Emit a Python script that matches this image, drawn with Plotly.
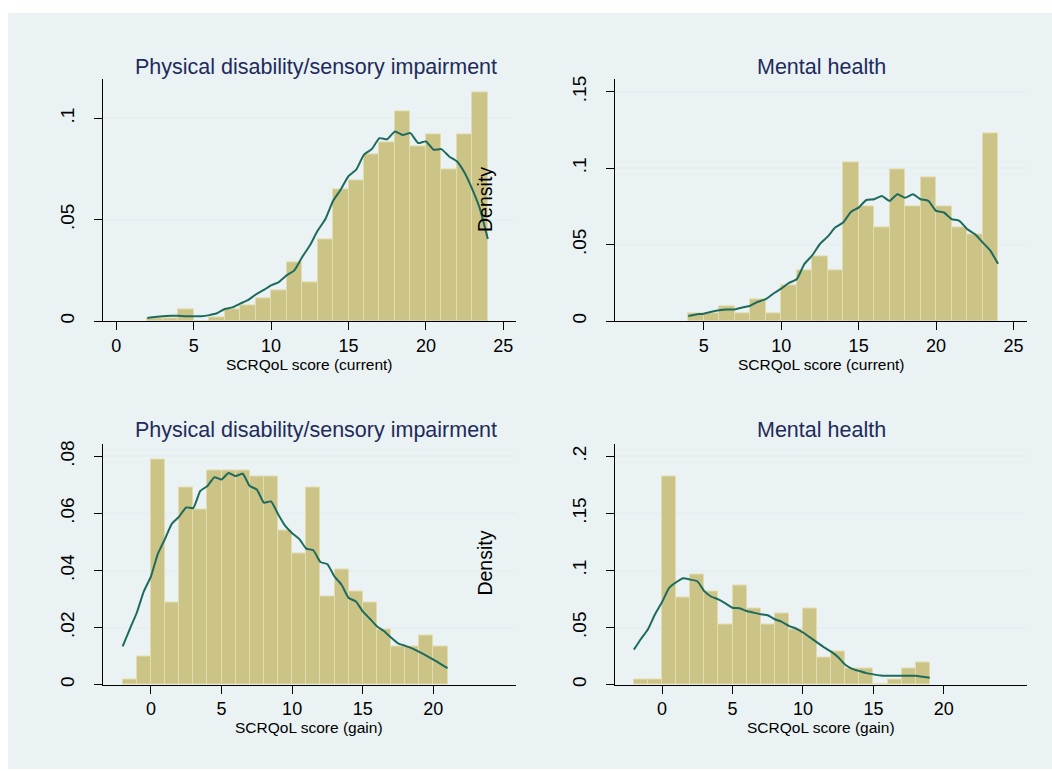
import numpy as np
import plotly.graph_objects as go

# ---- data -----------------------------------------------------------------
# Histogram bins (lower edge of each unit-wide bin) and densities
cur_phys_edges = list(range(2, 24))
cur_phys_dens = [0.0015, 0.0015, 0.0059, 0.0, 0.0018, 0.0057, 0.0078, 0.0114,
                 0.0153, 0.0287, 0.0192, 0.0403, 0.0651, 0.0692, 0.0822, 0.0883,
                 0.1034, 0.0861, 0.0920, 0.0747, 0.0920, 0.1129]

cur_mental_edges = list(range(4, 24))
cur_mental_dens = [0.0048, 0.0048, 0.0095, 0.0048, 0.0143, 0.0048, 0.0236, 0.0331,
                   0.0422, 0.0331, 0.1039, 0.0753, 0.0613, 0.0991, 0.0753, 0.0942,
                   0.0753, 0.0613, 0.0565, 0.1225]

gain_phys_edges = list(range(-2, 21))
gain_phys_dens = [0.0018, 0.0097, 0.0788, 0.0289, 0.0692, 0.0615, 0.0750, 0.0750,
                  0.0750, 0.0731, 0.0731, 0.0539, 0.0459, 0.0692, 0.0308, 0.0403,
                  0.0328, 0.0289, 0.0194, 0.0134, 0.0134, 0.0172, 0.0134]

gain_mental_edges = list(range(-2, 19))
gain_mental_dens = [0.0046, 0.0046, 0.1820, 0.0764, 0.0961, 0.0816, 0.0527, 0.0868,
                    0.0671, 0.0527, 0.0622, 0.0480, 0.0671, 0.0240, 0.0289, 0.0145,
                    0.0145, 0.0, 0.0046, 0.0145, 0.0191]

# Kernel density curves, evaluated on a half-unit grid
cur_phys_kx = np.arange(2.0, 24.01, 0.5)
cur_phys_ky = [0.0015, 0.0020, 0.0024, 0.0026, 0.0026, 0.0023, 0.0024, 0.0024,
               0.0029, 0.0038, 0.0059, 0.0067, 0.0086, 0.0103, 0.0130, 0.0152,
               0.0176, 0.0192, 0.0225, 0.0250, 0.0315, 0.0372, 0.0445, 0.0502,
               0.0592, 0.0649, 0.0715, 0.0747, 0.0821, 0.0848, 0.0902, 0.0897,
               0.0935, 0.0918, 0.0927, 0.0878, 0.0886, 0.0845, 0.0848, 0.0812,
               0.0788, 0.0731, 0.0649, 0.0551, 0.0405]

cur_mental_kx = np.arange(4.0, 24.01, 0.5)
cur_mental_ky = [0.0032, 0.0043, 0.0048, 0.0061, 0.0071, 0.0076, 0.0076, 0.0089,
                 0.0100, 0.0126, 0.0143, 0.0180, 0.0212, 0.0249, 0.0273, 0.0374,
                 0.0429, 0.0504, 0.0552, 0.0613, 0.0645, 0.0714, 0.0742, 0.0792,
                 0.0797, 0.0818, 0.0786, 0.0829, 0.0807, 0.0829, 0.0797, 0.0786,
                 0.0721, 0.0710, 0.0667, 0.0656, 0.0602, 0.0569, 0.0515, 0.0461,
                 0.0374]

gain_phys_kx = np.arange(-2.0, 21.01, 0.5)
gain_phys_ky = [0.0134, 0.0194, 0.0252, 0.0327, 0.0379, 0.0459, 0.0511, 0.0565,
                0.0589, 0.0621, 0.0619, 0.0679, 0.0696, 0.0727, 0.0719, 0.0742,
                0.0731, 0.0739, 0.0696, 0.0684, 0.0638, 0.0642, 0.0598, 0.0557,
                0.0531, 0.0511, 0.0477, 0.0471, 0.0430, 0.0422, 0.0379, 0.0350,
                0.0304, 0.0292, 0.0257, 0.0231, 0.0205, 0.0188, 0.0165, 0.0145,
                0.0136, 0.0127, 0.0115, 0.0102, 0.0088, 0.0073, 0.0058]

gain_mental_kx = np.arange(-2.0, 19.01, 0.5)
gain_mental_ky = [0.0307, 0.0400, 0.0486, 0.0617, 0.0724, 0.0848, 0.0897, 0.0932,
                  0.0920, 0.0906, 0.0819, 0.0770, 0.0747, 0.0712, 0.0674, 0.0669,
                  0.0645, 0.0631, 0.0617, 0.0608, 0.0573, 0.0550, 0.0515, 0.0492,
                  0.0457, 0.0414, 0.0370, 0.0327, 0.0289, 0.0240, 0.0174, 0.0139,
                  0.0119, 0.0101, 0.0090, 0.0081, 0.0078, 0.0078, 0.0078, 0.0078,
                  0.0078, 0.0069, 0.0061]

group_titles = ["Physical disability/sensory impairment", "Mental health"]
x_titles = ["SCRQoL score (current)", "SCRQoL score (gain)"]
y_title = "Density"

# ---- figure geometry (pixels) ---------------------------------------------
W, H = 1052, 771
FONT = "Liberation Sans, Arial, Helvetica, sans-serif"
BAR_FILL = "#CCC386"
BAR_EDGE = "#E2DCAE"
KDE_COLOR = "#1D6B5E"
GRID = "#E6EFF1"
BG = "#EAF2F3"
TITLE_COLOR = "#1E2B5B"


def px_x(p):
    return p / W


def px_y(p):
    return 1 - p / H


panels = [
    dict(edges=cur_phys_edges, dens=cur_phys_dens, kx=cur_phys_kx, ky=cur_phys_ky,
         xd=(103, 516), yd=(76, 319.5), xr=(-0.86, 25.82), yr=(0, 0.1192),
         xt=[0, 5, 10, 15, 20, 25], yt=[0, 0.05, 0.1], ytt=["0", ".05", ".1"]),
    dict(edges=cur_mental_edges, dens=cur_mental_dens, kx=cur_mental_kx, ky=cur_mental_ky,
         xd=(615, 1027), yd=(76, 319.5), xr=(-0.73, 25.87), yr=(0, 0.1581),
         xt=[5, 10, 15, 20, 25], yt=[0, 0.05, 0.1, 0.15], ytt=["0", ".05", ".1", ".15"]),
    dict(edges=gain_phys_edges, dens=gain_phys_dens, kx=gain_phys_kx, ky=gain_phys_ky,
         xd=(103, 516), yd=(443, 686), xr=(-3.39, 25.85), yr=(0, 0.0845),
         xt=[0, 5, 10, 15, 20], yt=[0, 0.02, 0.04, 0.06, 0.08],
         ytt=["0", ".02", ".04", ".06", ".08"]),
    dict(edges=gain_mental_edges, dens=gain_mental_dens, kx=gain_mental_kx, ky=gain_mental_ky,
         xd=(615, 1027), yd=(443, 686), xr=(-3.34, 25.9), yr=(0, 0.2112),
         xt=[0, 5, 10, 15, 20], yt=[0, 0.05, 0.1, 0.15, 0.2],
         ytt=["0", ".05", ".1", ".15", ".2"]),
]

fig = go.Figure()
layout = dict(
    width=W, height=H,
    margin=dict(l=0, r=0, t=0, b=0),
    paper_bgcolor="white",
    plot_bgcolor="white",
    showlegend=False,
    bargap=0,
    font=dict(family=FONT, color="black"),
)

for i, p in enumerate(panels, start=1):
    xa = "x" if i == 1 else f"x{i}"
    ya = "y" if i == 1 else f"y{i}"
    fig.add_trace(go.Bar(
        x=p["edges"], y=p["dens"], width=1, offset=0,
        marker=dict(color=BAR_FILL, line=dict(color=BAR_EDGE, width=1)),
        xaxis=xa, yaxis=ya, hoverinfo="skip",
    ))
    fig.add_trace(go.Scatter(
        x=p["kx"], y=p["ky"], mode="lines",
        line=dict(color=KDE_COLOR, width=2, shape="spline", smoothing=0.5),
        xaxis=xa, yaxis=ya, hoverinfo="skip",
    ))
    key_x = "xaxis" if i == 1 else f"xaxis{i}"
    key_y = "yaxis" if i == 1 else f"yaxis{i}"
    layout[key_x] = dict(
        domain=[px_x(p["xd"][0]), px_x(p["xd"][1])],
        anchor=ya, range=list(p["xr"]),
        tickvals=p["xt"], ticks="outside", ticklen=8, tickwidth=1.3,
        tickcolor="black", showline=True, linecolor="black", linewidth=1.3,
        showgrid=False, zeroline=False,
        tickfont=dict(size=18, family=FONT, color="black"),
    )
    layout[key_y] = dict(
        domain=[px_y(p["yd"][1]), px_y(p["yd"][0])],
        anchor=xa, range=list(p["yr"]),
        tickvals=p["yt"], ticktext=p["ytt"], tickangle=-90,
        ticks="outside", ticklen=8, tickwidth=1.3, tickcolor="black",
        showline=True, linecolor="black", linewidth=1.3,
        showgrid=True, gridcolor=GRID, gridwidth=1.5, zeroline=False,
        tickfont=dict(size=19, family=FONT, color="black"),
        ticklabelstandoff=12,
    )

fig.update_layout(**layout)

# light outer graph region
fig.add_shape(type="rect", xref="paper", yref="paper", layer="below",
              x0=px_x(8), x1=1.0, y0=0.0, y1=px_y(9),
              fillcolor=BG, line=dict(width=0))

annotations = []
title_pos = [(316, 63), (821, 63), (316, 429), (821, 429)]
for (x, y), t in zip(title_pos, group_titles * 2):
    annotations.append(dict(text=t, x=px_x(x), y=px_y(y), xref="paper", yref="paper",
                            showarrow=False, xanchor="center", yanchor="middle",
                            font=dict(size=21.5, color=TITLE_COLOR, family=FONT)))
xt_pos = [(309, 363), (821, 363), (309, 729), (821, 729)]
for (x, y), t in zip(xt_pos, [x_titles[0], x_titles[0], x_titles[1], x_titles[1]]):
    annotations.append(dict(text=t, x=px_x(x), y=px_y(y), xref="paper", yref="paper",
                            showarrow=False, xanchor="center", yanchor="middle",
                            font=dict(size=15.5, color="black", family=FONT)))
for y in (197.5, 564):
    annotations.append(dict(text=y_title, x=px_x(485), y=px_y(y), xref="paper", yref="paper",
                            showarrow=False, xanchor="center", yanchor="middle",
                            textangle=-90,
                            font=dict(size=19.5, color="black", family=FONT)))
fig.update_layout(annotations=annotations)

fig.write_html("out.html")
